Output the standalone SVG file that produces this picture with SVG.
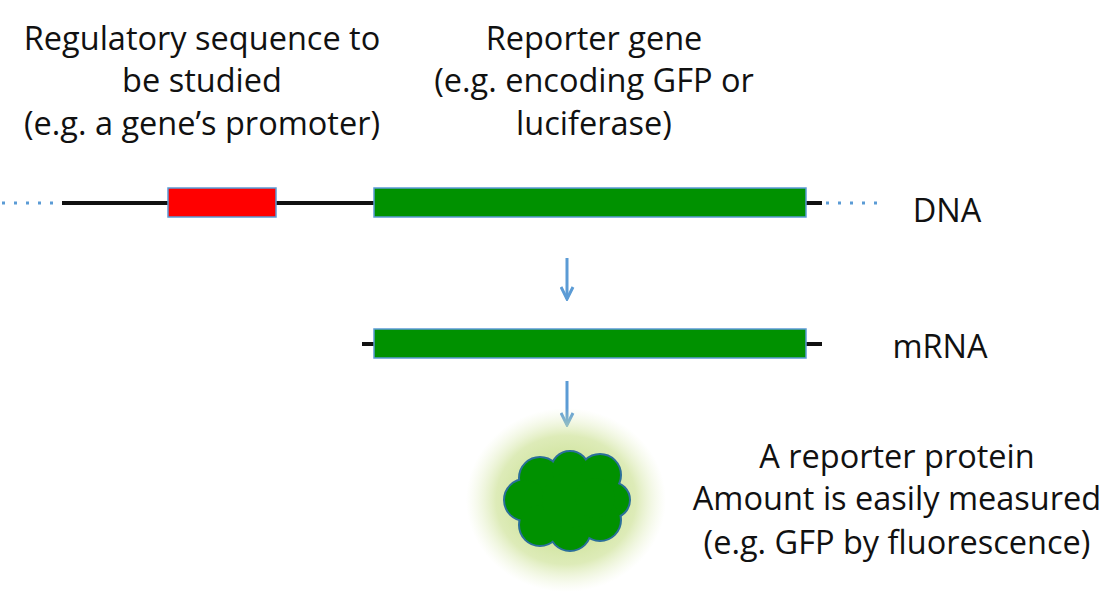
<svg xmlns="http://www.w3.org/2000/svg" width="1117" height="597" viewBox="0 0 1117 597">
<defs>
<style>
.t{font-family:"Open Sans","Liberation Sans",sans-serif;font-size:32.5px;fill:#111;text-anchor:middle}
.bar{fill:#009100;stroke:#5b9bd5;stroke-width:1.5}
.ln{stroke:#111;stroke-width:4}
.dot{stroke:#5b9bd5;stroke-width:3;stroke-dasharray:3 9}
.ar{stroke:#5b9bd5;stroke-width:3;fill:none}
</style>
<radialGradient id="glow"><stop offset="0.3" stop-color="#c2dc82" stop-opacity="0.9"/><stop offset="0.7" stop-color="#cfe39a" stop-opacity="0.7"/><stop offset="1" stop-color="#e4efc4" stop-opacity="0"/></radialGradient>
<marker id="ah" viewBox="0 0 10 10" refX="9" refY="5" markerWidth="5" markerHeight="5" orient="auto"><path d="M1,1 L9,5 L1,9" fill="none" stroke="#5b9bd5" stroke-width="2"/></marker>
<g id="blobshape">
<circle cx="540" cy="478" r="20"/><circle cx="570" cy="470" r="18"/><circle cx="600" cy="475" r="20"/>
<circle cx="525" cy="500" r="20"/><circle cx="612" cy="500" r="17"/><circle cx="540" cy="525" r="20"/>
<circle cx="570" cy="530" r="20"/><circle cx="600" cy="520" r="20"/><circle cx="570" cy="500" r="28"/><circle cx="595" cy="498" r="20"/>
</g>
</defs>
<rect width="1117" height="597" fill="#fff"/>
<g id="connectors">
<line class="dot" x1="2" y1="203" x2="60" y2="203"/>
<line class="dot" x1="826" y1="203" x2="880" y2="203"/>
<line class="ln" x1="62" y1="203" x2="822" y2="203"/>
<line class="ln" x1="362" y1="344" x2="822" y2="344"/>
<line class="ar" x1="567" y1="258" x2="567" y2="299" marker-end="url(#ah)"/>
<line class="ar" x1="567" y1="381" x2="567" y2="425" marker-end="url(#ah)"/>
</g>
<g id="promoter"><rect class="bar" x="168" y="188" width="108" height="29" style="fill:#ff0000"/></g>
<g id="reporter-dna"><rect class="bar" x="374" y="188" width="432" height="29"/></g>
<g id="mrna"><rect class="bar" x="374" y="329" width="432" height="29"/></g>
<g id="protein">
<ellipse cx="566" cy="500" rx="100" ry="92" fill="url(#glow)"/>
<use href="#blobshape" fill="#2a6f9a" stroke="#2a6f9a" stroke-width="4"/>
<use href="#blobshape" fill="#009100"/>
</g>
<g id="labels">
<text class="t" x="202" y="50">Regulatory sequence to</text>
<text class="t" x="202" y="92">be studied</text>
<text class="t" x="202" y="135">(e.g. a gene’s promoter)</text>
<text class="t" x="594" y="50">Reporter gene</text>
<text class="t" x="594" y="92">(e.g. encoding GFP or</text>
<text class="t" x="594" y="135">luciferase)</text>
<text class="t" x="947" y="222">DNA</text>
<text class="t" x="940" y="358">mRNA</text>
<text class="t" x="897" y="468">A reporter protein</text>
<text class="t" x="897" y="510">Amount is easily measured</text>
<text class="t" x="897" y="554">(e.g. GFP by fluorescence)</text>
</g>
</svg>
